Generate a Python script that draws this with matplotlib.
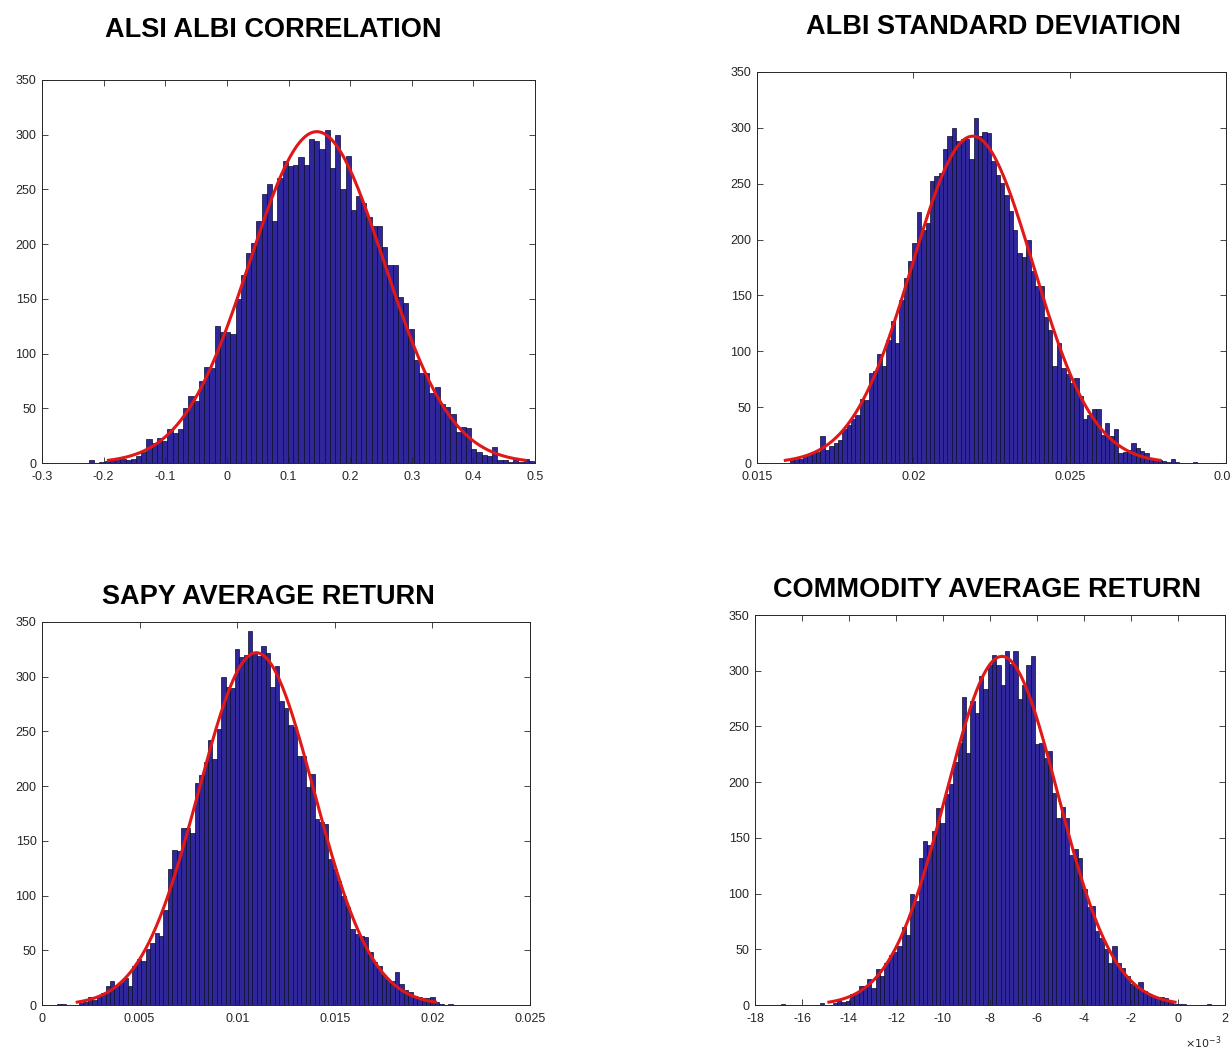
import numpy as np
import matplotlib.pyplot as plt
from matplotlib.ticker import FormatStrFormatter

plt.rcParams['font.family'] = ['Liberation Sans', 'DejaVu Sans']

# bar heights, left to right
corr_start, corr_width = -0.224, 0.0085
corr_counts = [3, 0, 1, 2, 4, 5, 4, 3, 4, 6, 10, 22, 18, 23, 20, 31, 27, 31, 50, 61,
               57, 75, 88, 87, 125, 120, 120, 118, 150, 172, 192, 201, 221, 246, 255, 221, 260, 276, 271, 272,
               280, 272, 296, 294, 287, 304, 270, 300, 250, 281, 231, 244, 238, 225, 217, 217, 197, 181, 181, 152,
               146, 122, 94, 82, 82, 64, 69, 54, 51, 45, 28, 33, 32, 13, 10, 7, 6, 15, 3, 3,
               1, 5, 1, 4, 2]

std_start, std_width = 0.01605, 0.00014
std_counts = [3, 4, 4, 6, 7, 9, 10, 24, 12, 15, 18, 21, 30, 34, 39, 43, 57, 56, 81, 82,
              98, 87, 110, 127, 107, 146, 166, 181, 197, 225, 209, 215, 252, 257, 260, 281, 293, 300, 288, 290,
              290, 272, 309, 293, 296, 295, 270, 258, 251, 240, 226, 209, 188, 184, 200, 172, 158, 158, 131, 119,
              87, 107, 85, 80, 72, 76, 60, 39, 43, 48, 48, 25, 36, 24, 30, 9, 10, 12, 18, 13,
              11, 9, 4, 3, 3, 2, 1, 4, 1, 0, 0, 0, 1]

sapy_start, sapy_width = 0.00075, 0.000228
sapy_counts = [1, 1, 0, 0, 0, 2, 3, 7, 5, 8, 11, 17, 22, 17, 20, 25, 17, 36, 42, 40,
               51, 57, 66, 63, 87, 124, 142, 141, 162, 162, 157, 203, 210, 222, 242, 225, 252, 300, 291, 290,
               325, 318, 320, 342, 323, 319, 328, 322, 291, 310, 278, 271, 256, 254, 228, 228, 199, 211, 170, 167,
               165, 133, 124, 113, 100, 90, 69, 65, 63, 62, 48, 39, 36, 27, 23, 22, 30, 19, 14, 12,
               8, 7, 6, 6, 7, 3, 1, 0, 1]

comm_start, comm_width = -0.01689, 0.0001831
comm_counts = [1, 0, 0, 0, 0, 0, 0, 0, 0, 2, 0, 0, 2, 5, 3, 4, 10, 11, 17, 17,
               23, 15, 32, 26, 38, 45, 48, 53, 70, 63, 100, 93, 132, 147, 144, 156, 177, 163, 189, 198,
               218, 235, 276, 226, 273, 262, 295, 284, 305, 314, 305, 287, 318, 306, 318, 275, 287, 305, 313, 234,
               235, 222, 228, 190, 168, 178, 168, 135, 140, 132, 104, 88, 89, 66, 60, 50, 38, 53, 38, 33,
               26, 19, 17, 21, 13, 9, 8, 7, 7, 6, 4, 1, 1, 1, 0, 0, 0, 0, 0, 1]

titles = ["ALSI ALBI CORRELATION", "ALBI STANDARD DEVIATION",
          "SAPY AVERAGE RETURN", "COMMODITY AVERAGE RETURN"]

BAR = '#2f2799'
LINE = '#e01818'
AXC = '#262626'


def histfit(ax, start, width, counts):
    counts = np.asarray(counts, dtype=float)
    edges = start + width * np.arange(len(counts))
    ax.bar(edges, counts, width=width, align='edge', color=BAR,
           edgecolor='#0a0a2a', linewidth=0.5)
    centers = edges + width / 2
    n = counts.sum()
    mu = (counts * centers).sum() / n
    sd = np.sqrt((counts * (centers - mu) ** 2).sum() / n)
    x = np.linspace(mu - 3.1 * sd, mu + 3.1 * sd, 200)
    y = n * width / (sd * np.sqrt(2 * np.pi)) * np.exp(-0.5 * ((x - mu) / sd) ** 2)
    ax.plot(x, y, color=LINE, lw=2.2)


def style(ax, xlim, xticks, fmt):
    ax.set_xlim(*xlim)
    ax.set_ylim(0, 350)
    ax.set_xticks(xticks)
    ax.set_yticks(np.arange(0, 351, 50))
    ax.xaxis.set_major_formatter(FormatStrFormatter(fmt))
    ax.tick_params(direction='in', top=True, right=True, length=4, width=0.6,
                   colors=AXC, labelsize=9, labelcolor=AXC)
    ax.tick_params(axis='x', pad=6)
    ax.tick_params(axis='y', pad=4)
    for s in ax.spines.values():
        s.set_color(AXC)
        s.set_linewidth(0.7)


W, H = 1231, 1053
fig = plt.figure(figsize=(W / 100, H / 100), dpi=100)


def axes_px(left, right, top, bottom):
    return fig.add_axes([left / W, 1 - bottom / H, (right - left) / W, (bottom - top) / H])


ax1 = axes_px(42, 535, 80, 463)
ax2 = axes_px(757, 1226, 72, 463)
ax3 = axes_px(42, 530, 622, 1005)
ax4 = axes_px(755, 1225, 615, 1005)

histfit(ax1, corr_start, corr_width, corr_counts)
style(ax1, (-0.3, 0.5), np.round(np.arange(-0.3, 0.51, 0.1), 2), '%g')

histfit(ax2, std_start, std_width, std_counts)
style(ax2, (0.015, 0.03), [0.015, 0.02, 0.025, 0.03], '%g')

histfit(ax3, sapy_start, sapy_width, sapy_counts)
style(ax3, (0, 0.025), np.round(np.arange(0, 0.0251, 0.005), 3), '%g')

histfit(ax4, comm_start, comm_width, comm_counts)
style(ax4, (-0.018, 0.002), np.round(np.arange(-0.018, 0.0021, 0.002), 3), '%g')
ax4.set_xticklabels([f"{int(round(t * 1000))}" for t in ax4.get_xticks()])
fig.text(1203 / W, 1 - 1043 / H, r'$\times10^{-3}$', fontsize=8, color=AXC,
         ha='center', va='center')

title_pos = [(273, 30), (993, 27), (268, 597), (987, 590)]
for t, (x, y) in zip(titles, title_pos):
    fig.text(x / W, 1 - y / H, t, fontsize=19.5, fontweight='bold', ha='center', va='center')

fig.savefig('out.png', dpi=100, facecolor='white')
